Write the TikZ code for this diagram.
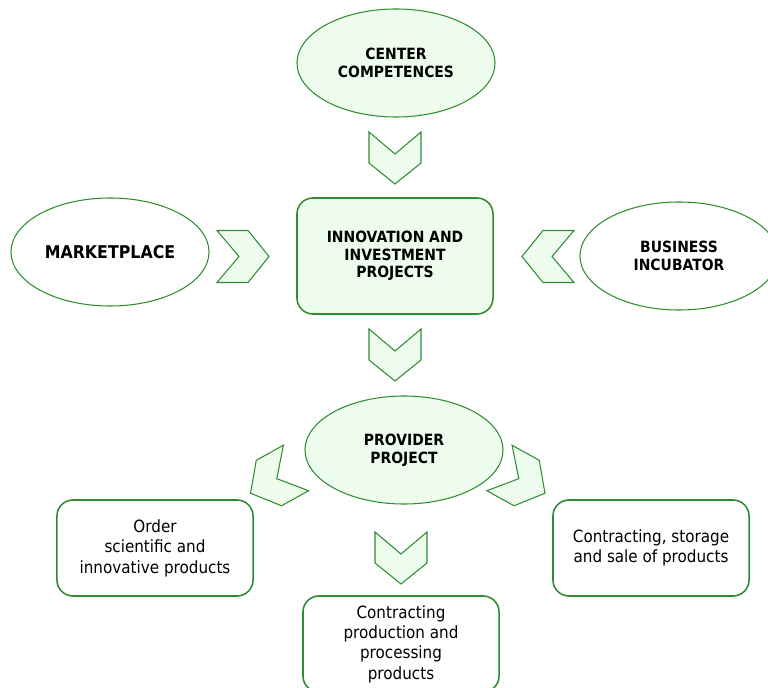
\documentclass[tikz,border=0pt]{standalone}
\usepackage{fontspec}
\setmainfont{DejaVu Sans}[FakeStretch=0.9]
\usetikzlibrary{shapes}
\definecolor{lgreen}{RGB}{238,252,238}
\definecolor{dgreen}{RGB}{48,140,48}

\begin{document}
\begin{tikzpicture}[x=0.025cm,y=-0.025cm]
\useasboundingbox (0,0) rectangle (768,688);
\begin{scope}[every node/.style={ellipse,draw=dgreen,line width=0.75pt,inner sep=0pt,
              minimum width=4.95cm,minimum height=2.7cm,align=center,
              font=\fontsize{11}{12.6}\selectfont\bfseries}]
    \node[fill=lgreen] (CC) at (396,63) {CENTER\\COMPETENCES};
    \node[fill=white] (MP) at (110,252) {\fontsize{12.5}{14}\selectfont MARKETPLACE};
    \node[fill=white] (BI) at (679,256) {BUSINESS\\INCUBATOR};
    \node[fill=lgreen] (PP) at (404,450) {PROVIDER\\PROJECT};
\end{scope}
\begin{scope}[every node/.style={rectangle,rounded corners=0.4cm,draw=dgreen,
              line width=1.1pt,minimum width=4.9cm,minimum height=2.4cm,align=center,
              font=\fontsize{12}{14.5}\selectfont}]
    \node[fill=lgreen,minimum height=2.9cm,font=\fontsize{11}{12.3}\selectfont\bfseries]
        (IP) at (395,256) {INNOVATION AND\\INVESTMENT\\PROJECTS};
    \node (OR) at (155,548) {Order\\scientific and\\innovative products};
    \node (CP) at (401,644) {Contracting\\production and\\processing\\products};
    \node (CS) at (651,548) {Contracting, storage\\and sale of products};
\end{scope}
\begin{scope}[chev/.pic={\draw[dgreen,fill=lgreen,line width=0.75pt]
              (0,-26) -- (31,-26) -- (52,0) -- (31,26) -- (0,26) -- (22,0) -- cycle;}]
    \pic[rotate=-90] at (395,132) {chev};
    \pic[rotate=-90] at (395,329) {chev};
    \pic[rotate=-90] at (401,532) {chev};
    \pic at (217,256.5) {chev};
    \pic[rotate=180] at (574,256.5) {chev};
    \pic[rotate=209] at (296,468) {chev};
    \pic[rotate=-29] at (499.5,468) {chev};
\end{scope}
\end{tikzpicture}
\end{document}
